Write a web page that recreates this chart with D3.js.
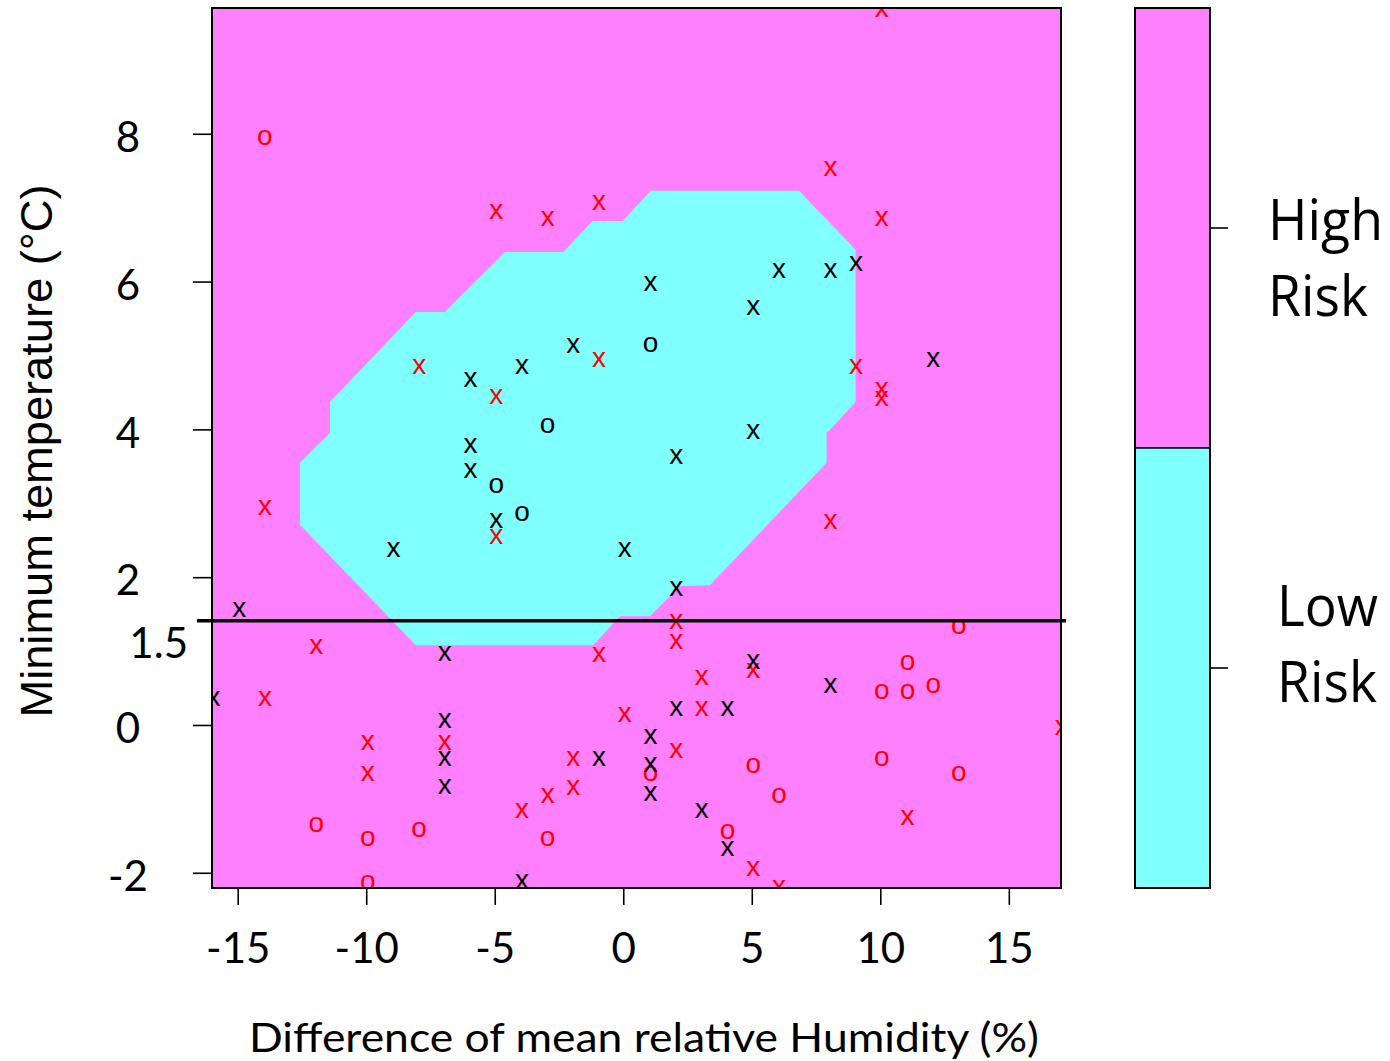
<!DOCTYPE html>
<html>
<head>
<meta charset="utf-8">
<script src="https://cdn.jsdelivr.net/npm/d3@7"></script>
<style>
  body { margin: 0; background: #fff; }
  svg { display: block; }
</style>
</head>
<body>
<script>
var svgWidth = 1390;
var svgHeight = 1061;

var plot = { left: 212, top: 8, right: 1061, bottom: 888 };

// tick values
var xTicks = [-15, -10, -5, 0, 5, 10, 15];
var yTicks = [-2, 0, 2, 4, 6, 8];

// colour key
var riskClasses = ["High Risk", "Low Risk"];
var riskColors = ["#ff80ff", "#80ffff"];

// outline of the low risk region (humidity difference, min temperature)
var boundaryHumidity = [-11.41, -8.07, -6.94, -4.60, -2.33, -1.19, -0.02, 1.07, 6.84, 9.04, 9.04, 7.98,
  7.91, 7.91, 3.37, 2.21, 1.04, -0.13, -1.17, -8.07, -12.58, -12.58, -11.41];
var boundaryTemp = [4.37, 5.59, 5.59, 6.40, 6.40, 6.82, 6.82, 7.23, 7.23, 6.43, 4.37, 3.97,
  3.97, 3.55, 1.89, 1.88, 1.47, 1.47, 1.08, 1.08, 2.71, 3.55, 3.95];

var thresholdTemp = 1.41;
var thresholdLabel = "1.5";

// observations [humidity difference, min temperature]
var redCrosses = [
  [10, 9.68], [8, 7.53], [10, 6.85], [-5, 6.95], [-3, 6.85], [-1, 7.07], [-8, 4.85], [-1, 4.94],
  [-5, 4.44], [9, 4.85], [10, 4.54], [10, 4.42], [-14, 2.95], [-5, 2.55], [8, 2.76], [-12, 1.06],
  [-14, 0.36], [-1, 0.96], [2, 1.40], [2, 1.13], [3, 0.65], [3, 0.23], [0, 0.14], [5, 0.74],
  [17, -0.04], [11, -1.25], [5, -1.94], [6, -2.2], [-10, -0.24], [-10, -0.65], [-7, -0.24],
  [-2, -0.45], [-2, -0.85], [-3, -0.95], [-4, -1.16], [2, -0.34]
];
var redCircles = [
  [-14, 7.95], [13, 1.34], [11, 0.84], [10, 0.45], [11, 0.45], [12, 0.54], [10, -0.45], [13, -0.65],
  [5, -0.55], [6, -0.95], [4, -1.44], [-12, -1.35], [-10, -1.53], [-8, -1.42], [-10, -2.13],
  [-3, -1.53], [1, -0.65]
];
var blackCrosses = [
  [1, 5.97], [6, 6.15], [8, 6.15], [9, 6.24], [5, 5.65], [12, 4.94], [5, 3.97], [-2, 5.14],
  [-4, 4.85], [-6, 4.67], [-6, 3.78], [-6, 3.45], [-5, 2.77], [2, 3.64], [0, 2.37], [-9, 2.37],
  [2, 1.85], [-15, 1.57], [-7, 0.97], [-16, 0.36], [-7, 0.06], [-7, -0.45], [-7, -0.83], [-1, -0.45],
  [1, -0.15], [1, -0.54], [1, -0.93], [2, 0.23], [4, 0.23], [3, -1.16], [4, -1.67], [-4, -2.12],
  [5, 0.86], [8, 0.54]
];
var blackCircles = [[1, 5.15], [-3, 4.06], [-5, 3.24], [-4, 2.86]];

var svg = d3.select("body")
  .append("svg")
  .attr("width", svgWidth)
  .attr("height", svgHeight);

var xScale = d3.scaleLinear().domain([-16, 17.03]).range([plot.left, plot.right]);
var yScale = d3.scaleLinear().domain([-2.206, 9.702]).range([plot.bottom, plot.top]);

svg.append("clipPath").attr("id", "plotClip")
  .append("rect")
  .attr("x", plot.left).attr("y", plot.top)
  .attr("width", plot.right - plot.left).attr("height", plot.bottom - plot.top);

var chartGroup = svg.append("g").attr("clip-path", "url(#plotClip)");

// high risk background
chartGroup.append("rect")
  .attr("x", plot.left).attr("y", plot.top)
  .attr("width", plot.right - plot.left).attr("height", plot.bottom - plot.top)
  .attr("fill", riskColors[0]);

// low risk region
var regionLine = d3.line()
  .x(i => xScale(boundaryHumidity[i]))
  .y(i => yScale(boundaryTemp[i]));

chartGroup.append("path")
  .attr("d", regionLine(d3.range(boundaryHumidity.length)) + "Z")
  .attr("fill", riskColors[1]);

// points drawn as letters, like pch = "x" / "o"
var groups = [
  { data: redCrosses, symbol: "x", color: "#ff0000" },
  { data: redCircles, symbol: "o", color: "#ff0000" },
  { data: blackCrosses, symbol: "x", color: "#000000" },
  { data: blackCircles, symbol: "o", color: "#000000" }
];

groups.forEach(function(g) {
  chartGroup.append("g")
    .selectAll("text")
    .data(g.data)
    .enter()
    .append("text")
    .attr("x", d => xScale(d[0]))
    .attr("y", d => yScale(d[1]))
    .attr("dx", 1.5)
    .attr("dy", "0.27em")
    .attr("text-anchor", "middle")
    .style("font-family", "'Liberation Sans', Arial, sans-serif")
    .style("font-size", "28px")
    .attr("fill", g.color)
    .text(g.symbol);
});

// frame
svg.append("rect")
  .attr("x", plot.left).attr("y", plot.top)
  .attr("width", plot.right - plot.left).attr("height", plot.bottom - plot.top)
  .attr("fill", "none")
  .attr("stroke", "#000")
  .attr("stroke-width", 2);

// threshold line
svg.append("line")
  .attr("x1", xScale.range()[0] - 15)
  .attr("x2", xScale.range()[1] + 5)
  .attr("y1", yScale(thresholdTemp))
  .attr("y2", yScale(thresholdTemp))
  .attr("stroke", "#000")
  .attr("stroke-width", 3.5);

svg.append("text")
  .attr("x", plot.left - 24)
  .attr("y", yScale(thresholdTemp) + 22)
  .attr("dy", "0.36em")
  .attr("text-anchor", "end")
  .style("font-family", "Lato, sans-serif")
  .style("font-size", "42px")
  .text(thresholdLabel);

// axes
var xAxis = svg.append("g")
  .attr("transform", `translate(0, ${plot.bottom})`)
  .call(d3.axisBottom(xScale).tickValues(xTicks).tickSize(17).tickPadding(28).tickFormat(d3.format("d")));

var yAxis = svg.append("g")
  .attr("transform", `translate(${plot.left}, 0)`)
  .call(d3.axisLeft(yScale).tickValues(yTicks).tickSize(19).tickFormat(d3.format("d")));

[xAxis, yAxis].forEach(function(ax) {
  ax.select(".domain").remove();
  ax.selectAll(".tick line").attr("stroke", "#000").attr("stroke-width", 1.6);
  ax.selectAll(".tick text")
    .attr("fill", "#000")
    .style("font-family", "Lato, sans-serif")
    .style("font-size", "42px");
});

xAxis.selectAll(".tick text").text(d => d < 0 ? "-" + Math.abs(d) : d);

yAxis.selectAll(".tick text")
  .attr("x", -84)
  .attr("dy", "0.42em")
  .attr("text-anchor", "middle")
  .text(d => d < 0 ? "-" + Math.abs(d) : d);

// axis titles
svg.append("text")
  .attr("x", 644)
  .attr("y", 1052)
  .attr("text-anchor", "middle")
  .attr("textLength", 790)
  .attr("lengthAdjust", "spacingAndGlyphs")
  .style("font-family", "Lato, sans-serif")
  .style("font-size", "40px")
  .text("Difference of mean relative Humidity (%)");

svg.append("text")
  .attr("transform", "translate(52, 451) rotate(-90)")
  .attr("text-anchor", "middle")
  .attr("textLength", 533)
  .attr("lengthAdjust", "spacingAndGlyphs")
  .style("font-family", "'Liberation Sans', Arial, sans-serif")
  .style("font-size", "44px")
  .text("Minimum temperature (°C)");

// colour key
var keyScale = d3.scaleBand().domain(riskClasses).range([plot.top, plot.bottom]);
var keyLeft = 1135, keyWidth = 75;

svg.append("g")
  .selectAll("rect")
  .data(riskClasses)
  .enter()
  .append("rect")
  .attr("x", keyLeft)
  .attr("y", d => keyScale(d))
  .attr("width", keyWidth)
  .attr("height", keyScale.bandwidth())
  .attr("fill", (d, i) => riskColors[i])
  .attr("stroke", "#000")
  .attr("stroke-width", 1.5);

svg.append("rect")
  .attr("x", keyLeft).attr("y", plot.top)
  .attr("width", keyWidth).attr("height", plot.bottom - plot.top)
  .attr("fill", "none").attr("stroke", "#000").attr("stroke-width", 2);

var keyAxis = svg.append("g")
  .attr("transform", `translate(${keyLeft + keyWidth}, 0)`)
  .call(d3.axisRight(keyScale).tickSize(18).tickFormat(""));
keyAxis.select(".domain").remove();
keyAxis.selectAll(".tick line").attr("stroke", "#000").attr("stroke-width", 1.6);

// two-line labels next to the key
var labelOffsets = { "High Risk": { dx: 58, dy: 12, w: [115, 100] }, "Low Risk": { dx: 67, dy: -42, w: [101, 100] } };
riskClasses.forEach(function(c) {
  var o = labelOffsets[c];
  var cy = keyScale(c) + keyScale.bandwidth() / 2;
  c.split(" ").forEach(function(word, j) {
    svg.append("text")
      .attr("x", keyLeft + keyWidth + o.dx)
      .attr("y", cy + o.dy + j * 76)
      .attr("textLength", o.w[j])
      .attr("lengthAdjust", "spacingAndGlyphs")
      .style("font-family", "'Open Sans', sans-serif")
      .style("font-size", "56px")
      .text(word);
  });
});
</script>
</body>
</html>
